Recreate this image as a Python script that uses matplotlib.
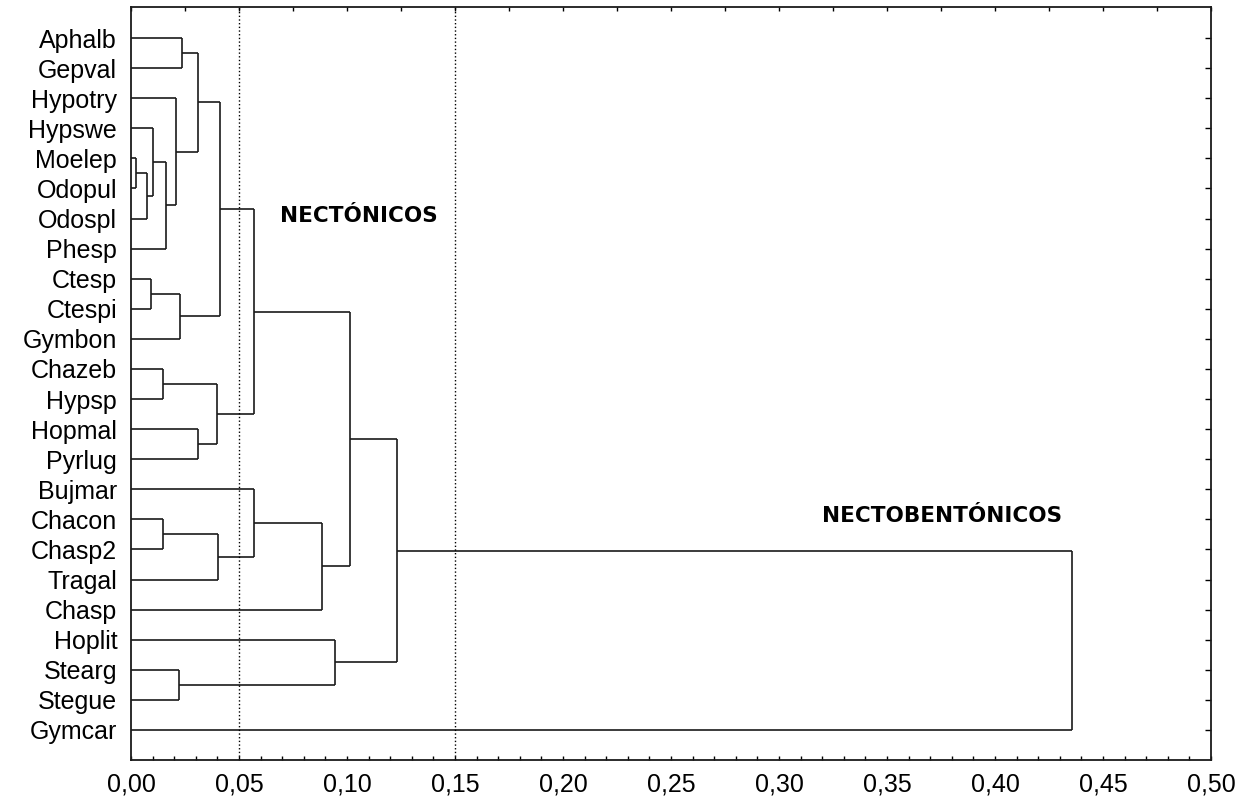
import numpy as np
from matplotlib import pyplot as plt
from matplotlib.ticker import FuncFormatter

# Species (leaf order, top to bottom)
leaves = ["Aphalb", "Gepval", "Hypotry", "Hypswe", "Moelep", "Odopul", "Odospl",
          "Phesp", "Ctesp", "Ctespi", "Gymbon", "Chazeb", "Hypsp", "Hopmal",
          "Pyrlug", "Bujmar", "Chacon", "Chasp2", "Tragal", "Chasp", "Hoplit",
          "Stearg", "Stegue", "Gymcar"]

# Merges: (left, right, linkage distance). str = leaf, int = earlier merge.
merge_left = ["Moelep", 0, "Hypswe", 2, "Hypotry", "Aphalb", 5, "Ctesp", 7, 6,
              "Chazeb", "Hopmal", 10, 9, "Chacon", 14, "Bujmar", 16, 13,
              "Stearg", "Hoplit", 18, 21]
merge_right = ["Odopul", "Odospl", 1, "Phesp", 3, "Gepval", 4, "Ctespi", "Gymbon", 8,
               "Hypsp", "Pyrlug", 11, 12, "Chasp2", "Tragal", 15, "Chasp", 17,
               "Stegue", 19, 20, "Gymcar"]
merge_dist = [0.0022, 0.0074, 0.0100, 0.0164, 0.0210, 0.0236, 0.0310, 0.0094,
              0.0228, 0.0410, 0.0148, 0.0309, 0.0397, 0.0571, 0.0150, 0.0404,
              0.0571, 0.0882, 0.1014, 0.0220, 0.0944, 0.1231, 0.4358]

xticks = np.arange(0, 0.501, 0.05)

plt.rcParams['font.family'] = ['Liberation Sans', 'DejaVu Sans']

fig = plt.figure(figsize=(12.48, 8.08), dpi=100)
ax = fig.add_axes([0.105, 0.0594, 0.8654, 0.9319])

line_kw = dict(color='#1a1a1a', lw=1.2, solid_capstyle='butt')

pos = {}   # node -> (height, y)
for name in leaves:
	pos[name] = (0.0, leaves.index(name))

for i in range(len(merge_dist)):
	h = merge_dist[i]
	h1, y1 = pos[merge_left[i]]
	h2, y2 = pos[merge_right[i]]
	ax.plot([h1, h], [y1, y1], **line_kw)
	ax.plot([h2, h], [y2, y2], **line_kw)
	ax.plot([h, h], [y1, y2], **line_kw)
	pos[i] = (h, (y1 + y2) / 2.0)

# Cut-off lines
ax.axvline(0.05, color='k', ls=':', lw=1.0)
ax.axvline(0.15, color='k', ls=':', lw=1.0)

ax.text(0.069, 5.9, "NECTÓNICOS", fontsize=15.5, fontweight='bold',
	family='DejaVu Sans', va='center', ha='left')
ax.text(0.32, 15.9, "NECTOBENTÓNICOS", fontsize=15.5, fontweight='bold',
	family='DejaVu Sans', va='center', ha='left')

ax.set_xlim(0, 0.5)
ax.set_ylim(24.0, -1.03)

ax.set_yticks(range(len(leaves)))
ax.set_yticklabels(leaves, fontsize=18)
ax.tick_params(axis='y', left=False, right=True, direction='in', length=4,
	width=1.0, pad=10)

ax.set_xticks(xticks)
ax.xaxis.set_major_formatter(FuncFormatter(lambda v, p: ("%.2f" % v).replace('.', ',')))
ax.set_xticks(np.arange(0, 0.501, 0.01), minor=True)
ax.tick_params(axis='x', which='both', bottom=True, top=False, direction='in',
	length=3, width=1.0, labelsize=18, pad=9)

# top ticks every 0.025
top = ax.secondary_xaxis('top')
top.set_xticks(np.arange(0, 0.501, 0.025))
top.tick_params(direction='in', length=3, width=1.0, labeltop=False)
top.spines['top'].set_visible(False)

for s in ax.spines.values():
	s.set_linewidth(1.3)
	s.set_color('#1a1a1a')

fig.savefig("out.png", dpi=100)
